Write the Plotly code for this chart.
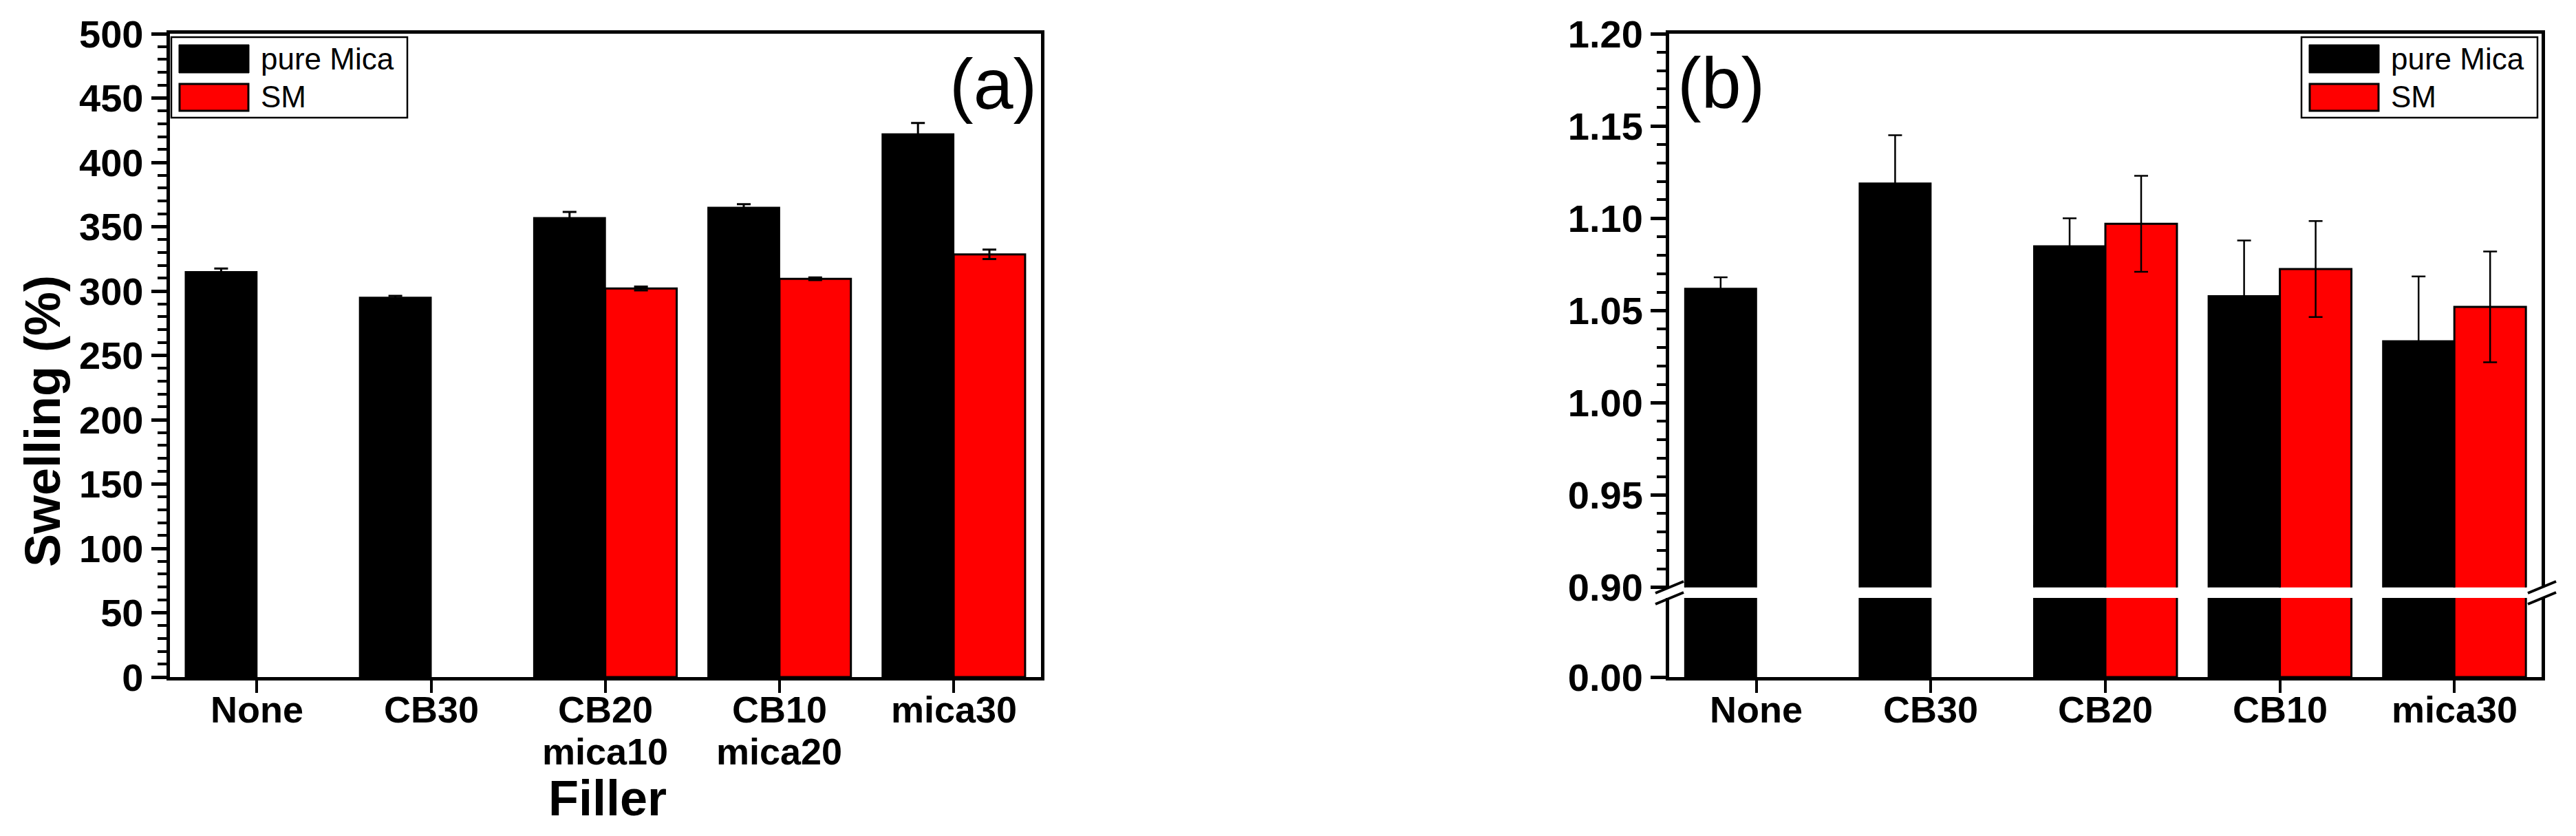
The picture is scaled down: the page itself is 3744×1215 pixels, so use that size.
import plotly.graph_objects as go

# Dados
fillers = ["None", "CB30", "CB20", "CB10", "mica30"]
second_line = ["", "", "mica10", "mica20", ""]

# (a) inchamento (%)
swell_pure = [315, 295, 357, 365, 422]
swell_pure_err = [2.5, 1.2, 4.5, 2.5, 8.6]
swell_sm = [None, None, 302, 309.5, 328.5]
swell_sm_err = [0, 0, 1.5, 1.0, 3.7]

# (b) razao
ratio_pure = [1.062, 1.119, 1.085, 1.058, 1.0335]
ratio_pure_err = [0.006, 0.026, 0.015, 0.030, 0.035]
ratio_sm = [None, None, 1.097, 1.0725, 1.052]
ratio_sm_err = [0, 0, 0.026, 0.026, 0.030]

W, H = 3744, 1215
FONT = "Liberation Sans, Arial, sans-serif"


def px(x):
    return x / W


def py(y):
    return 1 - y / H


fig = go.Figure()

# painel (a)
fig.add_trace(go.Bar(x=fillers, y=swell_pure, name="pure Mica",
                     marker=dict(color="black", line=dict(color="black", width=2)),
                     error_y=dict(type="data", array=swell_pure_err, color="black", thickness=3, width=10),
                     xaxis="x", yaxis="y"))
fig.add_trace(go.Bar(x=fillers, y=swell_sm, name="SM",
                     marker=dict(color="#ff0000", line=dict(color="black", width=3)),
                     error_y=dict(type="data", array=swell_sm_err, color="black", thickness=3, width=10),
                     xaxis="x", yaxis="y"))

# painel (b) - parte de baixo (0 a 0.9)
fig.add_trace(go.Bar(x=fillers, y=ratio_pure, name="pure Mica",
                     marker=dict(color="black", line=dict(color="black", width=2)),
                     xaxis="x3", yaxis="y3"))
fig.add_trace(go.Bar(x=fillers, y=ratio_sm, name="SM",
                     marker=dict(color="#ff0000", line=dict(color="black", width=3)),
                     xaxis="x3", yaxis="y3"))

# painel (b) - parte de cima (0.9 a 1.2)
fig.add_trace(go.Bar(x=fillers, y=ratio_pure, name="pure Mica",
                     marker=dict(color="black", line=dict(color="black", width=2)),
                     error_y=dict(type="data", array=ratio_pure_err, color="black", thickness=2.5, width=10),
                     xaxis="x4", yaxis="y4"))
fig.add_trace(go.Bar(x=fillers, y=ratio_sm, name="SM",
                     marker=dict(color="#ff0000", line=dict(color="black", width=3)),
                     error_y=dict(type="data", array=ratio_sm_err, color="black", thickness=2.5, width=10),
                     xaxis="x4", yaxis="y4"))

tickfont = dict(family=FONT, size=56, color="black", weight="bold")
catfont = dict(family=FONT, size=54, color="black", weight="bold")
xdom_a = [px(246.7), px(1512.7)]
xdom_b = [px(2426), px(3694)]
ydom_full = [py(984), py(49)]
ydom_low = [py(984), py(869)]
ydom_up = [py(853.7), py(49)]

# rotulos do eixo x vao como anotacoes (para controlar o espacamento das duas linhas)
xcommon = dict(showline=True, linecolor="black", linewidth=5, ticks="outside",
               ticklen=18, tickwidth=4, tickcolor="black", showticklabels=False,
               showgrid=False, zeroline=False, range=[-0.5, 4.5], automargin=False)

fig.update_layout(
    width=W, height=H,
    margin=dict(l=0, r=0, t=0, b=0, autoexpand=False),
    paper_bgcolor="white", plot_bgcolor="white",
    showlegend=False,
    barmode="group", bargap=0.18, bargroupgap=0,
    xaxis=dict(domain=xdom_a, anchor="y", mirror=True, **xcommon),
    yaxis=dict(domain=ydom_full, anchor="x", range=[0, 500], dtick=50, tick0=0,
               showline=True, mirror=True, linecolor="black", linewidth=5,
               ticks="outside", ticklen=22, tickwidth=5, tickcolor="black",
               tickfont=tickfont, showgrid=False, zeroline=False, automargin=False,
               minor=dict(dtick=10, tick0=0, ticks="outside", ticklen=13,
                          tickwidth=4, tickcolor="black", showgrid=False)),
    xaxis3=dict(domain=xdom_b, anchor="y3", **xcommon),
    yaxis3=dict(domain=ydom_low, anchor="x3", range=[0, 0.9], tickmode="array",
                tickvals=[0], ticktext=["0.00"],
                showline=True, mirror=True, linecolor="black", linewidth=5,
                ticks="outside", ticklen=22, tickwidth=5, tickcolor="black",
                tickfont=tickfont, showgrid=False, zeroline=False, automargin=False),
    xaxis4=dict(domain=xdom_b, anchor="y4", matches="x3", side="top",
                showline=True, linecolor="black", linewidth=5, ticks="",
                showticklabels=False, showgrid=False, zeroline=False,
                range=[-0.5, 4.5], automargin=False),
    yaxis4=dict(domain=ydom_up, anchor="x4", range=[0.9, 1.2], dtick=0.05, tick0=0.9,
                tickformat=".2f",
                showline=True, mirror=True, linecolor="black", linewidth=5,
                ticks="outside", ticklen=22, tickwidth=5, tickcolor="black",
                tickfont=tickfont, showgrid=False, zeroline=False, automargin=False,
                minor=dict(dtick=0.01, tick0=0.9, ticks="outside", ticklen=13,
                           tickwidth=4, tickcolor="black", showgrid=False)),
)

annotations = []
# rotulos das categorias nos dois paineis
for xr in ["x", "x3"]:
    for cat in fillers:
        annotations.append(dict(x=cat, xref=xr, y=py(1031), yref="paper", text=cat,
                                showarrow=False, xanchor="center", yanchor="middle",
                                font=catfont))
# segunda linha dos rotulos do painel (a)
for cat, txt in zip(fillers, second_line):
    if txt:
        annotations.append(dict(x=cat, xref="x", y=py(1092), yref="paper", text=txt,
                                showarrow=False, xanchor="center", yanchor="middle",
                                font=catfont))

annotations += [
    dict(x=px(883), y=py(1160), xref="paper", yref="paper", text="Filler", showarrow=False,
         xanchor="center", yanchor="middle",
         font=dict(family=FONT, size=72, color="black", weight="bold")),
    dict(x=px(62), y=py(612), xref="paper", yref="paper", text="Swelling (%)", showarrow=False,
         textangle=-90, xanchor="center", yanchor="middle",
         font=dict(family=FONT, size=72, color="black", weight="bold")),
    dict(x=px(1509), y=py(122), xref="paper", yref="paper", text="(a)", showarrow=False,
         xanchor="right", yanchor="middle", font=dict(family=FONT, size=104, color="black")),
    dict(x=px(2436), y=py(120), xref="paper", yref="paper", text="(b)", showarrow=False,
         xanchor="left", yanchor="middle", font=dict(family=FONT, size=104, color="black")),
]

# legenda desenhada a mao (as caixinhas do plotly sao pequenas demais)
shapes = []
for x0 in [249, 3345]:
    shapes.append(dict(type="rect", xref="paper", yref="paper",
                       x0=px(x0), x1=px(x0 + 343), y0=py(54), y1=py(171),
                       line=dict(color="black", width=2.5), fillcolor="white"))
    shapes.append(dict(type="rect", xref="paper", yref="paper",
                       x0=px(x0 + 11), x1=px(x0 + 113), y0=py(65), y1=py(106),
                       line=dict(color="black", width=1), fillcolor="black"))
    shapes.append(dict(type="rect", xref="paper", yref="paper",
                       x0=px(x0 + 12), x1=px(x0 + 112), y0=py(122), y1=py(161),
                       line=dict(color="black", width=3), fillcolor="#ff0000"))
    annotations.append(dict(x=px(x0 + 128), y=py(86), xref="paper", yref="paper",
                            text="pure Mica", showarrow=False, xanchor="left", yanchor="middle",
                            font=dict(family=FONT, size=44, color="black")))
    annotations.append(dict(x=px(x0 + 128), y=py(141), xref="paper", yref="paper",
                            text="SM", showarrow=False, xanchor="left", yanchor="middle",
                            font=dict(family=FONT, size=44, color="black")))

# marcas de quebra do eixo no painel (b)
for xs in [2426, 3694]:
    for dy in [0, 16]:
        shapes.append(dict(type="line", xref="paper", yref="paper",
                           x0=px(xs - 20), y0=py(862 + dy), x1=px(xs + 21), y1=py(845 + dy),
                           line=dict(color="black", width=4)))

fig.update_layout(annotations=annotations, shapes=shapes)

fig.write_html("out.html", config={"displayModeBar": False},
               post_script="document.body.style.margin='0';")
